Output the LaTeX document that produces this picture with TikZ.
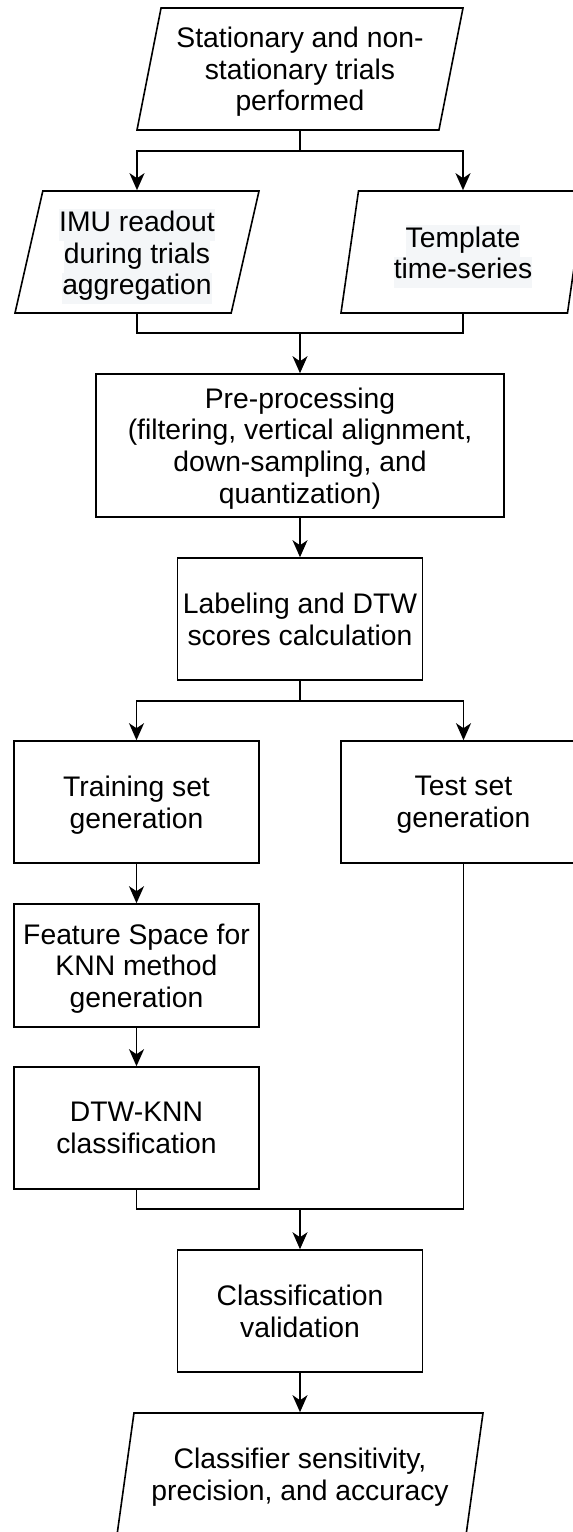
\documentclass[tikz,border=0pt]{standalone}
\usepackage{fontspec}
\setmainfont{Liberation Sans}
\usetikzlibrary{shapes.geometric,arrows.meta}
\definecolor{markGrey}{RGB}{244,246,248}
% light highlight behind pasted text lines
\newcommand{\marked}[1]{{\setlength{\fboxsep}{0pt}\colorbox{markGrey}{\strut #1}}}

\begin{document}
\begin{tikzpicture}[x=1pt, y=-1pt,
        procBox/.style={draw, line width=1.6pt, rectangle, minimum width=245pt, minimum height=122pt,
            inner sep=0pt, align=center, font=\fontsize{28.3}{31.7}\selectfont, text depth=-3.5pt},
        ioBox/.style={procBox, trapezium, trapezium left angle=72, trapezium right angle=108,
            trapezium stretches body, minimum width=244pt},
        flow/.style={line width=1.6pt},
        arr/.style={flow, -{Stealth[length=17pt, width=15pt, inset=5pt]}}]
    \useasboundingbox (0,0) rectangle (573,1532);
    \clip (0,0) rectangle (573,1532);
    %\draw[step=50, gray, very thin] (0,0) grid (573,1532);

    % inputs
    \node[ioBox, trapezium left angle=74, trapezium right angle=106, minimum width=326pt] (trials) at (300,69)
        {Stationary and non-\\stationary trials\\performed};
    \node[ioBox] (imu) at (137,252) {\marked{IMU readout}\\\marked{during trials}\\\marked{aggregation}};
    \node[ioBox] (template) at (463,252) {\marked{Template}\\\marked{time-series}};

    % processing chain
    \node[procBox, minimum width=408pt, minimum height=143pt] (preproc) at (300,445.5)
        {Pre-processing\\(filtering, vertical alignment,\\down-sampling, and\\quantization)};
    \node[procBox] (labeling) at (300,619) {Labeling and DTW\\scores calculation};
    \node[procBox] (trainSet) at (136.5,802) {Training set\\generation};
    \node[procBox] (testSet) at (463.5,802) {Test set\\generation};
    \node[procBox, minimum height=123pt] (feature) at (136.5,965.5) {Feature Space for\\KNN method\\generation};
    \node[procBox] (dtwKnn) at (136.5,1128) {DTW-KNN\\classification};
    \node[procBox] (validation) at (300,1311) {Classification\\validation};

    % output
    \node[ioBox, minimum width=366pt] (metrics) at (300,1474)
        {Classifier sensitivity,\\precision, and accuracy};

    % connectors
    \coordinate (splitIn) at (300,151);
    \coordinate (joinIn) at (300,333);
    \coordinate (splitSet) at (300,701);
    \coordinate (joinSet) at (300,1209);

    \draw[flow] (trials.center |- trials.south) -- (splitIn);
    \draw[arr] (splitIn) -| (imu.center |- imu.north);
    \draw[arr] (splitIn) -| (template.center |- template.north);

    \draw[flow] (imu.center |- imu.south) |- (joinIn);
    \draw[flow] (template.center |- template.south) |- (joinIn);
    \draw[arr] (joinIn) -- (preproc.north);

    \draw[arr] (preproc) -- (labeling);
    \draw[flow] (labeling.south) -- (splitSet);
    \draw[arr] (splitSet) -| (trainSet.north);
    \draw[arr] (splitSet) -| (testSet.north);

    \draw[arr] (trainSet) -- (feature);
    \draw[arr] (feature) -- (dtwKnn);

    \draw[flow] (dtwKnn.south) |- (joinSet);
    \draw[flow] (testSet.south) |- (joinSet);
    \draw[arr] (joinSet) -- (validation.north);
    \draw[arr] (validation) -- (metrics.center |- metrics.north);
\end{tikzpicture}
\end{document}
